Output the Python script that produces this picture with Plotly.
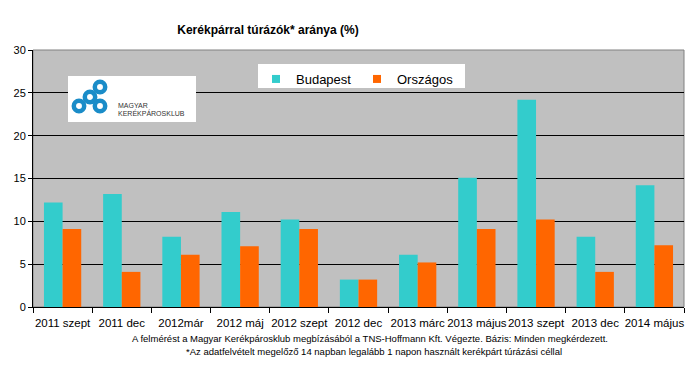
import plotly.graph_objects as go

categories = ["2011 szept", "2011 dec", "2012már", "2012 máj", "2012 szept", "2012 dec",
              "2013 márc", "2013 május", "2013 szept", "2013 dec", "2014 május"]
budapest = [12.2, 13.2, 8.2, 11.1, 10.2, 3.2, 6.1, 15.1, 24.2, 8.2, 14.2]
orszagos = [9.1, 4.1, 6.1, 7.1, 9.1, 3.2, 5.2, 9.1, 10.2, 4.1, 7.2]
y_ticks = [0, 5, 10, 15, 20, 25, 30]
series_names = ["Budapest", "Országos"]
series_colors = ["#33CCCC", "#FF6600"]

W, H = 695, 371
L, R, T, B = 33, 11, 50, 64
PW, PH = W - L - R, H - T - B


def px(x):
    return (x - L) / PW


def py(y):
    return (H - B - y) / PH


BASE = "Liberation Sans, Arial, sans-serif"

fig = go.Figure()
for name, vals, col in zip(series_names, [budapest, orszagos], series_colors):
    fig.add_trace(go.Bar(x=categories, y=vals, name=name, showlegend=False,
                         marker=dict(color=col, line=dict(width=0))))
# legend entries (small square swatches as in the original)
for name, col in zip(series_names, series_colors):
    fig.add_trace(go.Scatter(x=[None], y=[None], mode="markers", name=name,
                             marker=dict(symbol="square", size=8, color=col)))

shapes = [
    dict(type="rect", xref="paper", yref="paper", x0=0, x1=1, y0=0, y1=1,
         line=dict(color="#808080", width=1), layer="below"),
    # legend box
    dict(type="rect", xref="paper", yref="paper", x0=px(258), x1=px(465), y0=py(88), y1=py(64),
         fillcolor="white", line=dict(width=0), layer="above"),
    # logo box
    dict(type="rect", xref="paper", yref="paper", x0=px(68), x1=px(196), y0=py(122), y1=py(76),
         fillcolor="white", line=dict(width=0), layer="above"),
]
ring_centers = [(100, 87), (90, 97), (79, 106), (100, 106)]
for cx, cy in ring_centers:
    r = 5.2
    shapes.append(dict(type="circle", xref="paper", yref="paper",
                       x0=px(cx - r), x1=px(cx + r), y0=py(cy + r), y1=py(cy - r),
                       line=dict(color="#1A8CC8", width=4.5), fillcolor="rgba(0,0,0,0)",
                       layer="above"))

annotations = [
    dict(text="MAGYAR", x=px(116), y=py(105), xref="paper", yref="paper",
         xanchor="left", yanchor="middle", showarrow=False,
         font=dict(size=7, color="#333333", family=BASE)),
    dict(text="KERÉKPÁROSKLUB", x=px(116), y=py(113), xref="paper", yref="paper",
         xanchor="left", yanchor="middle", showarrow=False,
         font=dict(size=7, color="#333333", family=BASE)),
    dict(text="A felmérést a Magyar Kerékpárosklub megbízásából a TNS-Hoffmann Kft. Végezte. Bázis: Minden megkérdezett.",
         x=px(370), y=py(338), xref="paper", yref="paper", xanchor="center", yanchor="middle",
         showarrow=False, font=dict(size=9.5, color="#000000", family=BASE)),
    dict(text="*Az adatfelvételt megelőző 14 napban legalább 1 napon használt kerékpárt túrázási céllal",
         x=px(374), y=py(351), xref="paper", yref="paper", xanchor="center", yanchor="middle",
         showarrow=False, font=dict(size=9.5, color="#000000", family=BASE)),
]

fig.update_layout(
    width=W, height=H,
    margin=dict(l=L, r=R, t=T, b=B, pad=0, autoexpand=False),
    paper_bgcolor="white",
    plot_bgcolor="#C0C0C0",
    title=dict(text="<b>Kerékpárral túrázók* aránya (%)</b>", x=268 / W, xanchor="center",
               xref="container", y=1 - 30 / H, yanchor="middle", yref="container",
               automargin=False,
               font=dict(size=12, color="#000000", family=BASE)),
    barmode="group",
    bargap=0.37,
    bargroupgap=0,
    showlegend=True,
    legend=dict(orientation="h", x=px(256), y=py(64), xanchor="left", yanchor="top",
                bgcolor="rgba(0,0,0,0)", borderwidth=0, entrywidth=56, entrywidthmode="pixels",
                itemwidth=30, font=dict(size=13, color="#000000", family=BASE),
                tracegroupgap=0),
    xaxis=dict(type="category", showline=True, linecolor="black", linewidth=1,
               ticks="outside", tickson="boundaries", ticklen=5, tickcolor="black",
               tickangle=0, automargin=False, ticklabelstandoff=5,
               showgrid=False, tickfont=dict(size=11.5, color="black", family=BASE)),
    yaxis=dict(range=[0, 30], tickvals=y_ticks, showline=True, linecolor="black", linewidth=1,
               ticks="outside", ticklen=4, tickcolor="black", automargin=False,
               showgrid=True, gridcolor="black", gridwidth=1, zeroline=False,
               tickfont=dict(size=11, color="black", family=BASE)),
    shapes=shapes,
    annotations=annotations,
)

fig.write_html("out.html", config={"displayModeBar": False},
               post_script="document.body.style.margin='0';document.body.style.overflow='hidden';")
